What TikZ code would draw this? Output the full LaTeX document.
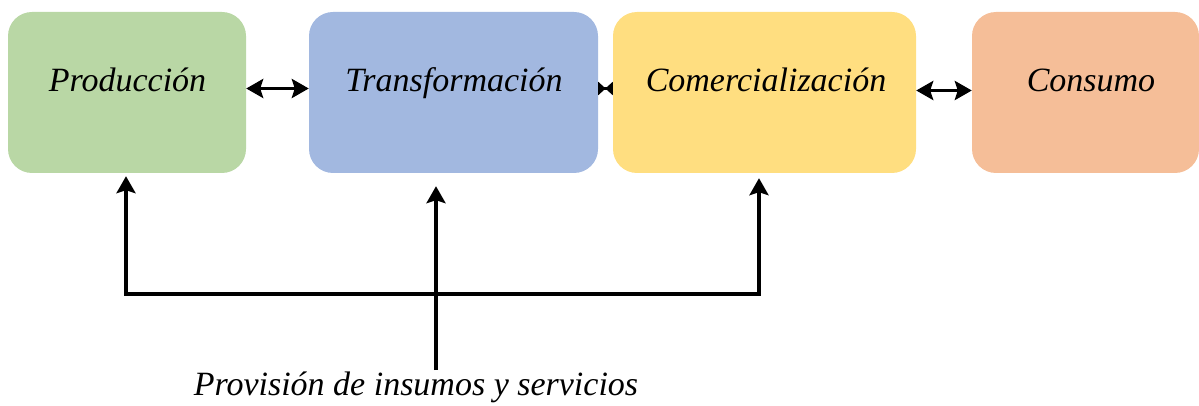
\documentclass[tikz,border=0pt]{standalone}
\usepackage{fontspec}
\setmainfont{Liberation Serif}
\usetikzlibrary{arrows.meta}
\definecolor{cgreen}{RGB}{185,215,165}
\definecolor{cblue}{RGB}{162,184,224}
\definecolor{cyellow}{RGB}{255,222,128}
\definecolor{csalmon}{RGB}{245,190,152}
\tikzset{tip/.tip={Stealth[length=17pt,width=19pt,inset=3pt]},
  smalltip/.tip={Stealth[length=7.5pt,width=13pt,inset=0pt,reversed]}}
\begin{document}
\begin{tikzpicture}[x=1pt,y=-1pt,
  stagebox/.style={draw=none, rounded corners=24pt, minimum height=161pt, inner sep=0pt},
  stagetext/.style={font=\fontsize{34}{40}\selectfont\itshape, inner sep=0pt, anchor=base},
  link/.style={line width=3.8pt, tip-tip},
  shortlink/.style={line width=3.8pt, smalltip-smalltip},
  feed/.style={line width=3.8pt, -tip}]
\useasboundingbox (0,0) rectangle (1199,406);
\node[stagebox, fill=cgreen, minimum width=238pt] (p) at (127,92.5) {};
\node[stagebox, fill=cblue, minimum width=289pt] (t) at (453.5,92.5) {};
\node[stagebox, fill=cyellow, minimum width=303pt] (c) at (764.5,92.5) {};
\node[stagebox, fill=csalmon, minimum width=227pt] (k) at (1085.5,92.5) {};
\node[stagetext] (pt) at (127.5,92) {Producción};
\node[stagetext] (tt) at (454,92) {Transformación};
\node[stagetext] (ct) at (766,92) {Comercialización};
\node[stagetext] (kt) at (1091,92) {Consumo};
\draw[link] ([yshift=4pt]p.east) -- ([yshift=4pt]t.west);
\draw[shortlink] ([yshift=4pt]t.east) -- ([yshift=4pt]c.west);
\draw[link] ([yshift=2pt]c.east) -- ([yshift=2pt]k.west);
\coordinate (hl) at (126,294);
\coordinate (hr) at (759,294);
\coordinate (src) at (436,370);
\draw[link, shorten <=3pt, shorten >=5pt] (hl |- p.south) -- (hl) -- (hr) -- (hr |- c.south);
\draw[feed, shorten >=13pt] (src) -- (src |- t.south);
\node[stagetext] (prov) at (416,395) {Provisión de insumos y servicios};
\end{tikzpicture}
\end{document}
